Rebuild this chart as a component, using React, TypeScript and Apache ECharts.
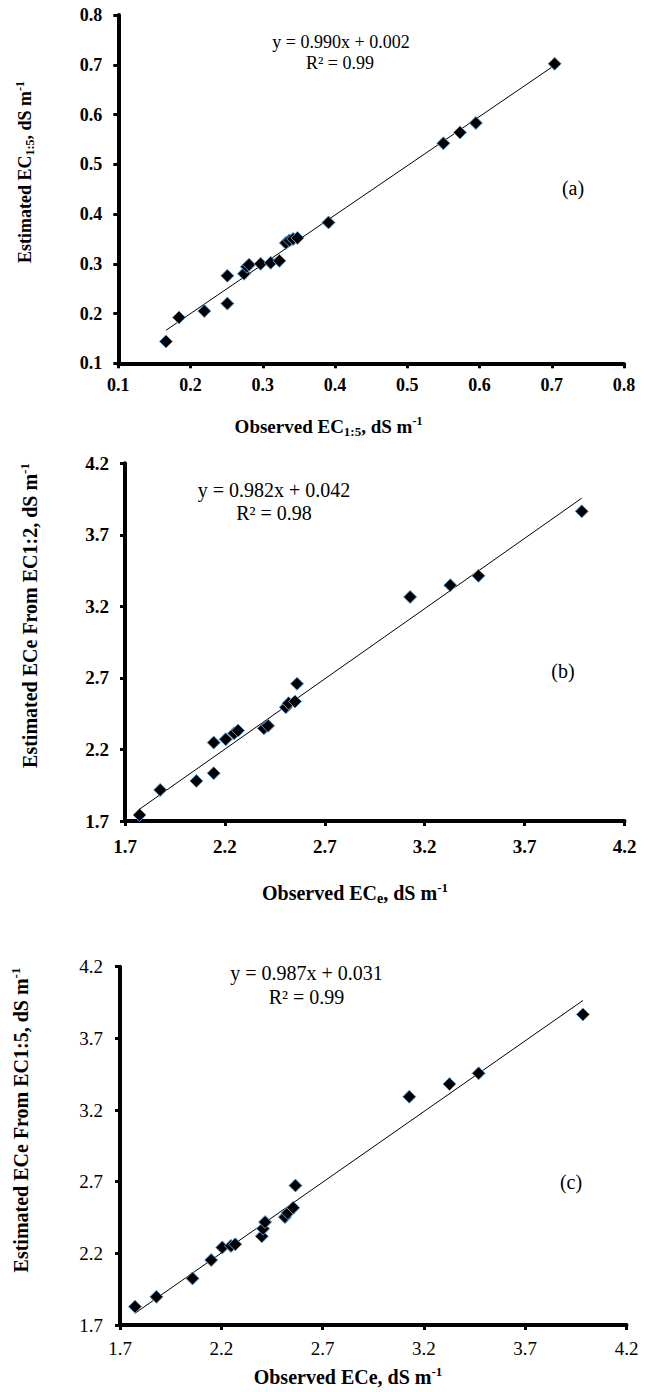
import React, { useEffect, useRef } from "react";
import * as echarts from "echarts";

// ---- data ----
const obsA = [0.166, 0.184, 0.219, 0.251, 0.251, 0.274, 0.278, 0.281, 0.297, 0.311, 0.323, 0.332, 0.337, 0.342, 0.348, 0.391, 0.55, 0.573, 0.595, 0.704];
const estA = [0.144, 0.192, 0.205, 0.22, 0.276, 0.28, 0.294, 0.298, 0.3, 0.302, 0.306, 0.342, 0.347, 0.35, 0.352, 0.383, 0.542, 0.564, 0.583, 0.702];

const obsB = [1.773, 1.876, 2.057, 2.144, 2.144, 2.204, 2.246, 2.266, 2.395, 2.416, 2.505, 2.519, 2.551, 2.561, 3.127, 3.328, 3.469, 3.986];
const estB = [1.742, 1.917, 1.98, 2.034, 2.248, 2.271, 2.313, 2.332, 2.348, 2.365, 2.495, 2.523, 2.535, 2.659, 3.266, 3.348, 3.414, 3.864];

const obsC = [1.774, 1.88, 2.058, 2.15, 2.205, 2.248, 2.269, 2.4, 2.406, 2.416, 2.514, 2.528, 2.555, 2.566, 3.128, 3.326, 3.47, 3.985];
const estC = [1.828, 1.897, 2.025, 2.153, 2.241, 2.252, 2.263, 2.319, 2.372, 2.418, 2.453, 2.481, 2.518, 2.673, 3.293, 3.381, 3.456, 3.867];

const ticksA = [0.1, 0.2, 0.3, 0.4, 0.5, 0.6, 0.7, 0.8];
const ticksBC = [1.7, 2.2, 2.7, 3.2, 3.7, 4.2];

const slopes = [0.99, 0.982, 0.987];
const intercepts = [0.002, 0.042, 0.031];
const equations = ["y = 0.990x + 0.002", "y = 0.982x + 0.042", "y = 0.987x + 0.031"];
const r2Texts = ["R² = 0.99", "R² = 0.98", "R² = 0.99"];
const panelTags = ["(a)", "(b)", "(c)"];

const SERIF = '"Liberation Serif", "Times New Roman", serif';

export default function App() {
  const ref = useRef<HTMLDivElement>(null);

  useEffect(() => {
    document.body.style.margin = "0";
    document.body.style.overflow = "hidden";
    if (!ref.current) return;
    const chart = echarts.init(ref.current, undefined, { renderer: "svg" });

    const panels = [
      { obs: obsA, est: estA, ticks: ticksA, min: 0.1, max: 0.8, grid: { left: 118.3, top: 15, width: 505.7, height: 348.3 }, labelWeight: "bold", labelSize: 18, xMargin: 13, yMargin: 16 },
      { obs: obsB, est: estB, ticks: ticksBC, min: 1.7, max: 4.2, grid: { left: 125, top: 463.3, width: 499.5, height: 357.7 }, labelWeight: "bold", labelSize: 19, xMargin: 16, yMargin: 16 },
      { obs: obsC, est: estC, ticks: ticksBC, min: 1.7, max: 4.2, grid: { left: 120, top: 966.7, width: 506.5, height: 358.3 }, labelWeight: "normal", labelSize: 19, xMargin: 14, yMargin: 17 },
    ];

    const axisCommon = (p: any, i: number, isX: boolean) => ({
      type: "value",
      gridIndex: i,
      min: p.min,
      max: p.max,
      axisLine: { show: true, onZero: false, lineStyle: { color: "#000", width: 4 } },
      axisTick: { show: true, length: 5, lineStyle: { color: "#000", width: 3 }, customValues: p.ticks },
      axisLabel: {
        customValues: p.ticks,
        formatter: (v: number) => v.toFixed(1),
        margin: isX ? p.xMargin : p.yMargin,
        color: "#000",
        fontFamily: SERIF,
        fontSize: p.labelSize,
        fontWeight: p.labelWeight,
      },
      splitLine: { show: false },
    });

    const series: any[] = [];
    panels.forEach((p, i) => {
      const xMin = Math.min(...p.obs);
      const xMax = Math.max(...p.obs);
      series.push({
        type: "line",
        xAxisIndex: i,
        yAxisIndex: i,
        data: [
          [xMin, slopes[i] * xMin + intercepts[i]],
          [xMax, slopes[i] * xMax + intercepts[i]],
        ],
        symbol: "none",
        lineStyle: { color: "#000", width: 1 },
        z: 2,
        silent: true,
      });
      series.push({
        type: "scatter",
        xAxisIndex: i,
        yAxisIndex: i,
        data: p.obs.map((x, j) => [x, p.est[j]]),
        symbol: "diamond",
        symbolSize: 13,
        itemStyle: { color: "#000", borderColor: "#5b9bd5", borderWidth: 1, opacity: 1 },
        z: 3,
      });
    });

    const richFor = (F: number, subScale = 0.68) => ({
      n: { fontSize: F, fontWeight: "bold", fontFamily: SERIF, fill: "#000", lineHeight: F + 4 },
      s: { fontSize: Math.round(F * subScale), fontWeight: "bold", fontFamily: SERIF, fill: "#000", lineHeight: F + 4, verticalAlign: "bottom" },
      u: { fontSize: Math.round(F * 0.65), fontWeight: "bold", fontFamily: SERIF, fill: "#000", lineHeight: F + 4, verticalAlign: "top" },
    });

    const title = (x: number, y: number, text: string, F: number, rotate: boolean) => ({
      type: "text",
      x,
      y,
      rotation: rotate ? Math.PI / 2 : 0,
      silent: true,
      style: {
        text,
        rich: richFor(F),
        align: "center",
        verticalAlign: "middle",
        fill: "#000",
        fontFamily: SERIF,
        fontSize: F,
        fontWeight: "bold",
      },
    });

    const plain = (x: number, y: number, text: string, F: number, family = SERIF) => ({
      type: "text",
      x,
      y,
      silent: true,
      style: { text, fill: "#000", fontFamily: family, fontSize: F, align: "center", verticalAlign: "middle" },
    });

    const graphic: any[] = [
      // axis titles
      title(328.5, 426.7, "{n|Observed EC}{s|1:5}{n|, dS m}{u|-1}", 19, false),
      title(25, 172, "{n|Estimated EC}{s|1:5}{n|, dS m}{u|-1}", 18, true),
      title(355, 893.3, "{n|Observed EC}{s|e}{n|, dS m}{u|-1}", 20, false),
      title(29.7, 615.5, "{n|Estimated ECe From EC1:2, dS m}{u|-1}", 20, true),
      title(348, 1377, "{n|Observed ECe, dS m}{u|-1}", 20, false),
      title(20.5, 1120, "{n|Estimated ECe From EC1:5, dS m}{u|-1}", 20, true),
      // equations
      plain(341, 41.7, equations[0], 18),
      plain(340, 63.3, r2Texts[0], 18),
      plain(274, 490, equations[1], 20),
      plain(274, 513, r2Texts[1], 20),
      plain(306.5, 973.3, equations[2], 20),
      plain(306.5, 996.7, r2Texts[2], 20),
      // panel tags
      plain(573, 188, panelTags[0], 20),
      plain(563, 670.7, panelTags[1], 20),
      plain(571, 1181.7, panelTags[2], 20),
    ];

    chart.setOption({
      animation: false,
      backgroundColor: "#fff",
      grid: panels.map((p) => ({ ...p.grid, containLabel: false })),
      xAxis: panels.map((p, i) => axisCommon(p, i, true)),
      yAxis: panels.map((p, i) => axisCommon(p, i, false)),
      series,
      graphic,
    });

    return () => chart.dispose();
  }, []);

  return <div ref={ref} style={{ width: 649, height: 1392 }} />;
}
